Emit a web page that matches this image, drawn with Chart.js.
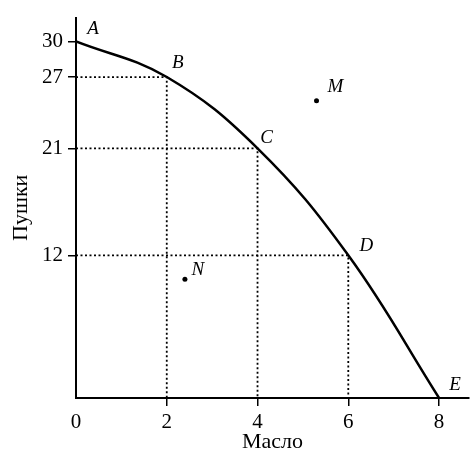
<!DOCTYPE html>
<html>
<head>
<meta charset="utf-8">
<script src="https://cdn.jsdelivr.net/npm/chart.js@4/dist/chart.umd.min.js"></script>
<style>
    html, body { margin: 0; padding: 0; background: #fff; }
    #wrap { width: 473px; height: 453px; }
</style>
</head>
<body>
<div id="wrap"><canvas id="ppf" width="473" height="453"></canvas></div>
<script>
// production possibilities: butter (x) vs guns (y)
const butter = [0, 2, 4, 6, 8];
const guns = [30, 27, 21, 12, 0];
const pointNames = ['A', 'B', 'C', 'D', 'E'];

// points off the curve
const extraNames = ['M', 'N'];
const extraButter = [5.3, 2.4];
const extraGuns = [25, 10];

const xTicks = [0, 2, 4, 6, 8];
const yTicks = [12, 21, 27, 30];
const xTitle = 'Масло';
const yTitle = 'Пушки';

const serif = "'Liberation Serif', 'DejaVu Serif', serif";
const ink = '#000';

// label offsets in px (style only)
const labelOffset = {
    A: [17, -12], B: [11, -14], C: [9, -10], D: [18, -9], E: [16, -13],
    M: [19, -14], N: [13, -9]
};

const curve = butter.map((b, i) => ({ x: b, y: guns[i], name: pointNames[i] }));
const extras = extraButter.map((b, i) => ({ x: b, y: extraGuns[i], name: extraNames[i] }));

// dotted guides from B, C, D to both axes
const guides = curve.slice(1, 4).map(p => ({
    type: 'line',
    data: [{ x: 0, y: p.y }, { x: p.x, y: p.y }, { x: p.x, y: 0 }],
    borderColor: ink,
    borderWidth: 1.8,
    borderDash: [2, 2.5],
    pointRadius: 0,
    fill: false,
    tension: 0
}));

const letters = {
    id: 'letters',
    afterDatasetsDraw(chart) {
        const { ctx, scales: { x, y } } = chart;
        ctx.save();
        ctx.fillStyle = ink;
        ctx.font = 'italic 19px ' + serif;
        ctx.textAlign = 'center';
        ctx.textBaseline = 'middle';
        [...curve, ...extras].forEach(p => {
            const off = labelOffset[p.name];
            ctx.fillText(p.name, x.getPixelForValue(p.x) + off[0], y.getPixelForValue(p.y) + off[1]);
        });
        ctx.restore();
    }
};

new Chart(document.getElementById('ppf').getContext('2d'), {
    type: 'line',
    data: {
        datasets: [
            {
                data: curve,
                borderColor: ink,
                borderWidth: 2.5,
                pointRadius: 0,
                fill: false,
                tension: 0.4
            },
            ...guides,
            {
                type: 'scatter',
                data: extras,
                pointRadius: 2.5,
                pointBackgroundColor: ink,
                pointBorderWidth: 0
            }
        ]
    },
    options: {
        responsive: false,
        animation: false,
        events: [],
        layout: { padding: { top: 16, right: 0, left: 0, bottom: 0 } },
        plugins: { legend: { display: false }, tooltip: { enabled: false } },
        scales: {
            x: {
                type: 'linear',
                min: 0,
                max: 8.66,
                afterBuildTicks: s => { s.ticks = xTicks.map(v => ({ value: v })); },
                afterFit: s => { s.height = 55; },
                grid: {
                    drawOnChartArea: false,
                    tickLength: 8,
                    lineWidth: 1.5,
                    color: c => c.tick && c.tick.value === 0 ? 'rgba(0,0,0,0)' : ink
                },
                border: { display: true, color: ink, width: 2 },
                ticks: { color: ink, padding: 4, maxRotation: 0, font: { family: serif, size: 21 } },
                title: {
                    display: true,
                    text: xTitle,
                    color: ink,
                    padding: { top: 0, bottom: 0 },
                    font: { family: serif, size: 22, lineHeight: 1 }
                }
            },
            y: {
                type: 'linear',
                min: 0,
                max: 32,
                afterBuildTicks: s => { s.ticks = yTicks.map(v => ({ value: v })); },
                afterFit: s => { s.width = 76; },
                grid: { drawOnChartArea: false, tickLength: 8, lineWidth: 1.5, color: ink },
                border: { display: true, color: ink, width: 2 },
                ticks: { color: ink, padding: 5, font: { family: serif, size: 21 } },
                title: {
                    display: true,
                    text: yTitle,
                    color: ink,
                    padding: { top: 10, bottom: 0 },
                    font: { family: serif, size: 22, lineHeight: 1 }
                }
            }
        }
    },
    plugins: [letters]
});
</script>
</body>
</html>
